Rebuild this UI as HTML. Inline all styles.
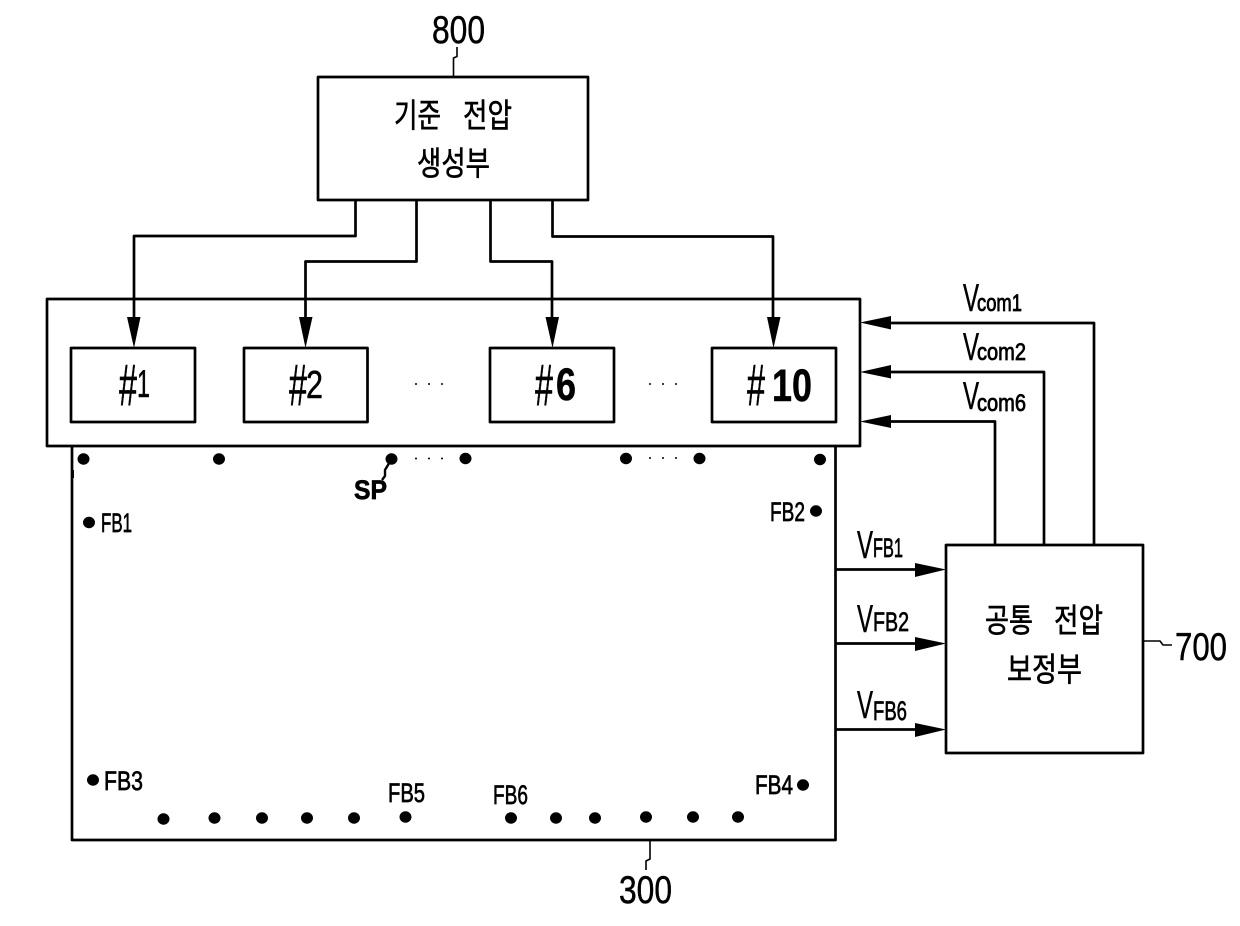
<!DOCTYPE html>
<html>
<head>
<meta charset="utf-8">
<style>
html,body{margin:0;padding:0;background:#fff;width:1240px;height:926px;overflow:hidden}
svg{display:block}
text{font-family:"Liberation Sans","Noto Sans CJK KR",sans-serif;fill:#000;stroke:#000;stroke-width:.5px}
.k{font-family:"Noto Sans CJK KR","Liberation Sans",sans-serif;font-size:33px;stroke-width:.6px}
.n{font-size:39px}
.h{font-size:58px}
.f{font-size:27px;stroke-width:.7px}
.c{font-size:24px;stroke-width:.8px}
.b{font-weight:bold}
.g{font-size:45px;font-weight:bold}
</style>
</head>
<body>
<svg width="1240" height="926" viewBox="0 0 1240 926" xmlns="http://www.w3.org/2000/svg">
<g fill="none" stroke="#000" stroke-width="2.700" stroke-linejoin="round">
<rect x="318" y="77" width="270" height="123"/>
<rect x="47" y="299" width="813" height="147"/>
<rect x="71" y="348" width="124" height="74"/>
<rect x="244" y="348" width="123.500" height="74"/>
<rect x="490" y="348" width="124" height="74"/>
<rect x="712" y="348" width="124" height="74"/>
<path d="M72 446V840H835.500V446"/>
<rect x="946" y="545" width="197" height="208"/>
<path d="M355.500 200V236H134V330"/>
<path d="M416.500 200V261.500H305.500V330"/>
<path d="M490.500 200V261.500H552V330"/>
<path d="M552.500 200V236.500H773V330"/>
<path d="M1094 545V323H880"/>
<path d="M1044 545V372H880"/>
<path d="M995 545V421.500H880"/>
<path d="M836 569.500H925"/>
<path d="M836 643.500H925"/>
<path d="M836 729.500H925"/>
</g>
<g fill="#000">
<path d="M127 317H140.500L134 348Z"/>
<path d="M299 317H312.500L305.500 348Z"/>
<path d="M545.500 317H559L552.500 348Z"/>
<path d="M767 317H780.500L773.500 348Z"/>
<path d="M860 322.500L891 316V329.500Z"/>
<path d="M860 372L891 365V378.500Z"/>
<path d="M860 421.500L891 415V428Z"/>
<path d="M946 569.500L915 563V577Z"/>
<path d="M946 643.500L915 637V651Z"/>
<path d="M946 729.500L915 723V737Z"/>
</g>
<g fill="none" stroke="#000" stroke-width="1.600">
<path d="M453.500 77V58L457 56.500V47"/>
<path d="M650 840V859L646 861V870"/>
<path d="M1143 641H1160L1163 645H1172"/>
</g>
<path d="M391 460L385 470V476L382 480" fill="none" stroke="#000" stroke-width="2.400"/>
<path d="M72.500 470V478" fill="none" stroke="#000" stroke-width="3"/>
<g fill="#000">
<ellipse cx="83.500" cy="459" rx="6" ry="5.700"/>
<ellipse cx="219" cy="459" rx="6" ry="5.700"/>
<ellipse cx="391.500" cy="459" rx="6" ry="5.700"/>
<ellipse cx="465.500" cy="458.500" rx="6" ry="5.700"/>
<ellipse cx="626" cy="458.500" rx="6" ry="5.700"/>
<ellipse cx="699.500" cy="458.500" rx="6" ry="5.700"/>
<ellipse cx="820" cy="459.500" rx="6" ry="5.700"/>
<ellipse cx="89" cy="522.500" rx="6" ry="5.700"/>
<ellipse cx="816" cy="511" rx="6" ry="5.700"/>
<ellipse cx="93" cy="780" rx="6" ry="5.700"/>
<ellipse cx="803" cy="785" rx="6" ry="5.700"/>
<ellipse cx="163.500" cy="819" rx="6" ry="5.700"/>
<ellipse cx="214.500" cy="818" rx="6" ry="5.700"/>
<ellipse cx="262" cy="818" rx="6" ry="5.700"/>
<ellipse cx="307" cy="818" rx="6" ry="5.700"/>
<ellipse cx="354" cy="818" rx="6" ry="5.700"/>
<ellipse cx="405.500" cy="817" rx="6" ry="5.700"/>
<ellipse cx="511" cy="818" rx="6" ry="5.700"/>
<ellipse cx="556" cy="818" rx="6" ry="5.700"/>
<ellipse cx="595" cy="818" rx="6" ry="5.700"/>
<ellipse cx="646" cy="817" rx="6" ry="5.700"/>
<ellipse cx="693" cy="817" rx="6" ry="5.700"/>
<ellipse cx="738" cy="817" rx="6" ry="5.700"/>
<circle cx="416" cy="384" r="1"/><circle cx="429" cy="384" r="1"/><circle cx="442" cy="384" r="1"/>
<circle cx="650" cy="384" r="1"/><circle cx="663" cy="384" r="1"/><circle cx="676" cy="384" r="1"/>
<circle cx="416" cy="458.500" r="1"/><circle cx="429" cy="458.500" r="1"/><circle cx="442" cy="458.500" r="1"/>
<circle cx="650" cy="458" r="1"/><circle cx="663" cy="458" r="1"/><circle cx="676" cy="458" r="1"/>
</g>

<text class="n" x="432" y="43" textLength="53" lengthAdjust="spacingAndGlyphs">800</text>
<text class="n" x="619" y="903" textLength="53" lengthAdjust="spacingAndGlyphs">300</text>
<text class="n" x="1175" y="660" textLength="52" lengthAdjust="spacingAndGlyphs">700</text>

<text class="k" x="394" y="127" textLength="47" lengthAdjust="spacingAndGlyphs">기준</text>
<text class="k" x="463" y="127" textLength="49" lengthAdjust="spacingAndGlyphs">전압</text>
<text class="k" x="417" y="175" textLength="73" lengthAdjust="spacingAndGlyphs">생성부</text>
<text class="k" x="985" y="632" textLength="48" lengthAdjust="spacingAndGlyphs">공통</text>
<text class="k" x="1054" y="632" textLength="49" lengthAdjust="spacingAndGlyphs">전압</text>
<text class="k" x="1007" y="681" textLength="75" lengthAdjust="spacingAndGlyphs">보정부</text>

<text class="h" x="119" y="405" textLength="18" lengthAdjust="spacingAndGlyphs">#</text>
<text class="n" x="137" y="397" textLength="13" lengthAdjust="spacingAndGlyphs">1</text>
<text class="h" x="289" y="405" textLength="18" lengthAdjust="spacingAndGlyphs">#</text>
<text class="n" x="306" y="398" textLength="17" lengthAdjust="spacingAndGlyphs">2</text>
<text class="h" x="535" y="405" textLength="18" lengthAdjust="spacingAndGlyphs">#</text>
<text class="g" x="556" y="400" textLength="20" lengthAdjust="spacingAndGlyphs">6</text>
<text class="h" x="747" y="405" textLength="18" lengthAdjust="spacingAndGlyphs">#</text>
<text class="g" x="772" y="401" textLength="40" lengthAdjust="spacingAndGlyphs">10</text>

<text class="n" x="963" y="311" textLength="16" lengthAdjust="spacingAndGlyphs">V</text>
<text class="c" x="977" y="311" textLength="45" lengthAdjust="spacingAndGlyphs">com1</text>
<text class="n" x="963" y="360" textLength="16" lengthAdjust="spacingAndGlyphs">V</text>
<text class="c" x="977" y="360" textLength="49" lengthAdjust="spacingAndGlyphs">com2</text>
<text class="n" x="963" y="409" textLength="16" lengthAdjust="spacingAndGlyphs">V</text>
<text class="c" x="977" y="411" textLength="49" lengthAdjust="spacingAndGlyphs">com6</text>

<text class="n" x="857" y="558" textLength="16" lengthAdjust="spacingAndGlyphs">V</text>
<text class="f" x="873" y="557" textLength="30" lengthAdjust="spacingAndGlyphs">FB1</text>
<text class="n" x="857" y="632" textLength="16" lengthAdjust="spacingAndGlyphs">V</text>
<text class="f" x="873" y="631" textLength="36" lengthAdjust="spacingAndGlyphs">FB2</text>
<text class="n" x="857" y="718" textLength="16" lengthAdjust="spacingAndGlyphs">V</text>
<text class="f" x="873" y="720" textLength="34" lengthAdjust="spacingAndGlyphs">FB6</text>

<text class="f" x="101" y="532" textLength="31" lengthAdjust="spacingAndGlyphs">FB1</text>
<text class="f" x="770" y="521" textLength="35" lengthAdjust="spacingAndGlyphs">FB2</text>
<text class="f" x="104" y="790" textLength="39" lengthAdjust="spacingAndGlyphs">FB3</text>
<text class="f" x="755" y="794" textLength="38" lengthAdjust="spacingAndGlyphs">FB4</text>
<text class="f" x="388" y="802" textLength="37" lengthAdjust="spacingAndGlyphs">FB5</text>
<text class="f" x="493" y="804" textLength="35" lengthAdjust="spacingAndGlyphs">FB6</text>
<text class="f b" x="354" y="499" textLength="33" lengthAdjust="spacingAndGlyphs">SP</text>
</svg>
</body>
</html>
